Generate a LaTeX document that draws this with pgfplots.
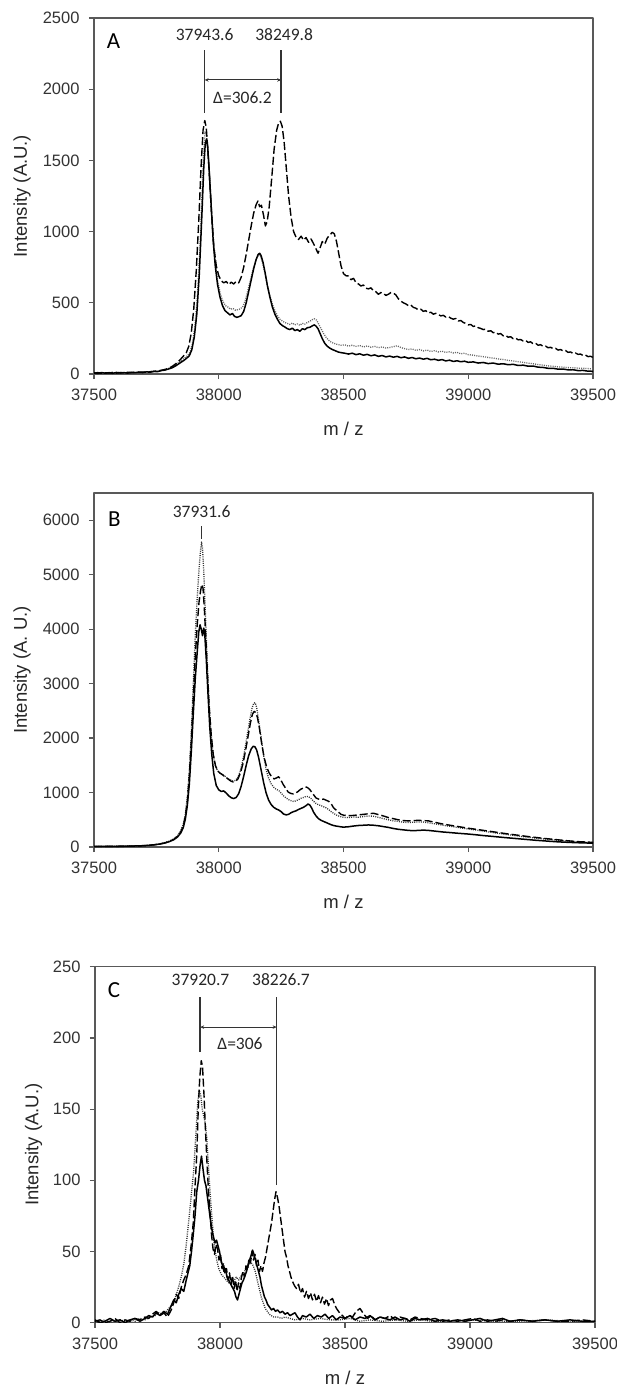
\documentclass[border=0pt]{standalone}
\usepackage{fontspec}
\setmainfont{Liberation Sans}
\newfontfamily\annot{Carlito}
\usepackage{pgfplots}
\pgfplotsset{compat=1.18}
\usetikzlibrary{arrows.meta}

\pgfplotsset{
  spec/.style={
    scale only axis,
    width=499pt,
    xmin=37500, xmax=39500,
    xtick={37500,38000,38500,39000,39500},
    scaled x ticks=false, scaled y ticks=false,
    axis line style={black!65, line width=1.3pt},
    tick style={black!65, line width=1.2pt},
    major tick length=5pt,
    tick align=outside,
    xtick pos=bottom, ytick pos=left,
    /pgf/number format/1000 sep={},
    /pgf/number format/fixed,
    /pgf/number format/assume math mode=true,
    tick label style={font=\fontsize{16.5}{18}\selectfont, text=black!80},
    xticklabel style={anchor=center, yshift=-16pt},
    yticklabel style={anchor=east, xshift=-6pt},
    every axis x label/.style={at={(axis description cs:0.5,-0.155)}, anchor=center,
      font=\fontsize{18.5}{20}\selectfont, text=black!85},
    every axis y label/.style={at={(axis description cs:-0.1443,0.5)}, rotate=90, anchor=center,
      font=\fontsize{18.5}{20}\selectfont, text=black!85},
    xlabel={m / z},
    no markers,
    line join=round,
    anchor=south west,
  },
  solidl/.style={black, line width=1.5pt},
  dashl/.style={black, line width=1.4pt, dash pattern=on 8pt off 3pt},
  dotl/.style={black!80, line width=1.3pt, dash pattern=on 1pt off 1.2pt},
}
\tikzset{
  mkline/.style={black!80, line width=1.6pt},
  dimline/.style={black!80, line width=0.9pt, {Stealth[length=4pt,width=3.5pt]}-{Stealth[length=4pt,width=3.5pt]}},
  lbl/.style={font=\annot\fontsize{17.5}{19}\selectfont, text=black!85},
  panel/.style={font=\annot\fontsize{23}{25}\selectfont, text=black},
}

\begin{document}
\begin{tikzpicture}
\useasboundingbox (0,0) rectangle (617pt,-1391pt);

% ---------------- A ----------------
\begin{axis}[spec, at={(94pt,-374pt)}, height=356pt,
  ymin=0, ymax=2500, ytick={0,500,1000,1500,2000,2500},
  ylabel={Intensity (A.U.)}]
\addplot[dotl, black!60] coordinates {
(37500,5)(37520,9)(37540,6)(37560,10)(37580,7)(37600,11)(37620,8)(37640,12)(37660,10)(37680,14)(37700,12)(37720,16)(37740,20)(37760,22)(37780,30)(37800,40)(37815,52)(37830,68)(37845,88)(37860,108)(37872,125)(37884,150)(37894,210)(37904,330)(37914,540)(37924,860)(37932,1220)(37939,1550)(37945,1700)(37951,1680)(37957,1560)(37964,1360)(37972,1120)(37980,900)(37988,750)(37997,640)(38007,560)(38017,510)(38027,480)(38037,470)(38047,455)(38057,460)(38067,448)(38077,452)(38087,458)(38097,475)(38107,520)(38117,590)(38127,660)(38137,730)(38147,790)(38155,825)(38162,838)(38169,820)(38177,770)(38186,700)(38195,620)(38205,550)(38215,490)(38225,445)(38235,410)(38245,385)(38255,372)(38265,362)(38275,355)(38285,348)(38295,358)(38305,345)(38315,352)(38325,342)(38335,356)(38345,350)(38355,362)(38365,370)(38375,382)(38383,388)(38392,378)(38400,352)(38410,318)(38420,285)(38430,258)(38440,238)(38450,225)(38462,215)(38475,208)(38490,202)(38505,205)(38520,196)(38535,202)(38550,194)(38565,200)(38580,190)(38595,197)(38610,188)(38625,194)(38640,185)(38655,190)(38670,182)(38685,186)(38700,192)(38715,198)(38730,186)(38745,178)(38760,172)(38775,176)(38790,166)(38805,172)(38820,162)(38835,168)(38850,158)(38865,164)(38880,155)(38895,160)(38910,152)(38925,156)(38940,148)(38955,152)(38970,142)(38985,146)(39000,136)(39020,132)(39040,126)(39060,122)(39080,116)(39100,112)(39120,106)(39140,102)(39160,96)(39180,92)(39200,86)(39220,82)(39240,76)(39260,72)(39280,66)(39300,62)(39320,57)(39340,54)(39360,50)(39380,48)(39400,45)(39420,44)(39440,41)(39460,40)(39480,38)(39500,36)
};
\addplot[solidl] coordinates {
(37500,8)(37515,4)(37530,10)(37545,6)(37560,9)(37575,5)(37590,11)(37605,7)(37620,10)(37635,6)(37650,12)(37665,9)(37680,13)(37695,10)(37710,15)(37725,13)(37740,18)(37755,17)(37770,24)(37785,28)(37800,36)(37815,45)(37830,60)(37845,78)(37860,95)(37872,112)(37882,128)(37892,170)(37902,260)(37912,420)(37922,700)(37932,1100)(37940,1450)(37946,1620)(37951,1650)(37956,1590)(37962,1420)(37970,1170)(37978,930)(37986,760)(37995,630)(38005,540)(38015,480)(38025,445)(38035,430)(38045,415)(38055,425)(38063,405)(38072,398)(38080,402)(38090,410)(38100,440)(38110,500)(38120,580)(38130,660)(38140,740)(38150,805)(38158,840)(38164,848)(38170,830)(38178,780)(38186,710)(38195,620)(38205,540)(38215,470)(38225,420)(38235,385)(38245,355)(38255,340)(38265,330)(38275,318)(38285,312)(38295,322)(38305,305)(38315,312)(38325,300)(38335,318)(38345,312)(38355,325)(38365,328)(38375,338)(38383,345)(38390,336)(38398,318)(38406,285)(38415,248)(38425,215)(38435,195)(38445,182)(38455,172)(38465,165)(38478,155)(38490,150)(38505,146)(38520,140)(38535,146)(38550,136)(38565,142)(38580,132)(38595,138)(38610,128)(38625,134)(38640,124)(38655,130)(38670,120)(38685,126)(38700,118)(38715,124)(38730,114)(38745,120)(38760,110)(38775,116)(38790,107)(38805,112)(38820,104)(38835,110)(38850,100)(38865,104)(38880,96)(38895,101)(38910,92)(38925,97)(38940,88)(38955,93)(38970,86)(38985,90)(39000,82)(39020,85)(39040,77)(39060,81)(39080,73)(39100,77)(39120,69)(39140,72)(39160,65)(39180,68)(39200,60)(39220,62)(39240,55)(39260,56)(39280,48)(39300,46)(39320,40)(39340,40)(39360,34)(39380,35)(39400,29)(39420,30)(39440,24)(39460,25)(39480,20)(39500,19)
};
\addplot[dashl] coordinates {
(37500,6)(37515,10)(37530,5)(37545,9)(37560,7)(37575,11)(37590,6)(37605,10)(37620,8)(37635,12)(37650,9)(37665,13)(37680,11)(37695,14)(37710,12)(37725,16)(37740,18)(37755,22)(37770,26)(37785,32)(37800,40)(37815,55)(37830,75)(37845,100)(37858,125)(37870,150)(37880,195)(37890,290)(37900,460)(37910,730)(37920,1080)(37929,1450)(37937,1710)(37944,1780)(37950,1730)(37956,1580)(37963,1380)(37971,1130)(37980,900)(37990,760)(38000,690)(38010,655)(38020,640)(38030,650)(38040,628)(38050,645)(38060,632)(38070,650)(38080,640)(38090,680)(38100,750)(38110,840)(38120,940)(38130,1040)(38140,1130)(38150,1190)(38157,1215)(38164,1175)(38171,1185)(38179,1120)(38187,1040)(38194,1070)(38202,1170)(38212,1370)(38222,1580)(38232,1710)(38240,1765)(38247,1775)(38254,1740)(38262,1630)(38271,1440)(38280,1250)(38290,1100)(38300,1000)(38310,960)(38320,945)(38330,968)(38340,940)(38350,958)(38360,925)(38370,948)(38380,915)(38390,878)(38398,848)(38406,885)(38415,930)(38425,912)(38435,955)(38445,975)(38455,995)(38463,985)(38472,930)(38481,845)(38490,760)(38500,705)(38510,690)(38520,688)(38530,662)(38540,672)(38550,642)(38560,632)(38570,618)(38580,625)(38590,602)(38600,598)(38610,605)(38620,585)(38630,578)(38640,560)(38650,572)(38660,566)(38670,552)(38680,560)(38690,572)(38700,568)(38710,555)(38720,528)(38730,512)(38740,500)(38750,492)(38760,480)(38770,485)(38780,468)(38790,462)(38800,450)(38810,455)(38820,440)(38830,445)(38840,428)(38850,434)(38860,420)(38870,426)(38880,418)(38890,408)(38900,412)(38910,400)(38920,404)(38930,392)(38940,385)(38950,390)(38960,372)(38970,376)(38980,362)(38990,355)(39000,345)(39010,348)(39020,334)(39030,338)(39040,325)(39050,320)(39060,312)(39070,315)(39080,300)(39090,304)(39100,290)(39110,294)(39120,280)(39130,284)(39140,268)(39150,272)(39160,258)(39170,262)(39180,248)(39190,252)(39200,240)(39210,242)(39220,232)(39230,236)(39240,222)(39250,226)(39260,212)(39270,216)(39280,202)(39290,206)(39300,194)(39310,196)(39320,184)(39330,188)(39340,178)(39350,180)(39360,168)(39370,172)(39380,162)(39390,165)(39400,152)(39410,155)(39420,144)(39430,147)(39440,138)(39450,140)(39460,130)(39470,133)(39480,122)(39490,125)(39500,116)
};
\draw[mkline] (axis cs:37943.6,1833) -- (axis cs:37943.6,2275);
\draw[mkline] (axis cs:38249.8,1833) -- (axis cs:38249.8,2275);
\draw[dimline] (axis cs:37943.6,2065) -- (axis cs:38249.8,2065);
\node[lbl] at (axis cs:37943.6,2381) {37943.6};
\node[lbl] at (axis cs:38262,2381) {38249.8};
\node[lbl] at (axis cs:38095,1938) {Δ=306.2};
\node[panel] at (axis description cs:0.039,0.934) {A};
\end{axis}

% ---------------- B ----------------
\begin{axis}[spec, at={(94pt,-847pt)}, height=354pt,
  ymin=0, ymax=6500, ytick={0,1000,2000,3000,4000,5000,6000},
  ylabel={Intensity (A. U.)}]
\addplot[dotl] coordinates {
(37500,10)(37520,12)(37540,11)(37560,13)(37580,12)(37600,15)(37620,14)(37640,17)(37660,18)(37680,22)(37700,26)(37720,32)(37740,42)(37760,55)(37780,75)(37800,105)(37820,150)(37835,210)(37848,300)(37858,420)(37866,600)(37874,900)(37882,1400)(37890,2100)(37898,3000)(37906,3900)(37914,4600)(37921,5100)(37927,5450)(37931,5600)(37935,5480)(37940,5050)(37946,4350)(37953,3500)(37960,2750)(37968,2150)(37976,1750)(37985,1520)(37995,1400)(38005,1360)(38015,1330)(38025,1300)(38035,1260)(38045,1235)(38055,1215)(38065,1220)(38075,1265)(38085,1380)(38095,1560)(38105,1800)(38115,2080)(38125,2350)(38133,2540)(38140,2640)(38146,2650)(38152,2560)(38160,2320)(38170,2000)(38180,1680)(38190,1420)(38200,1260)(38210,1160)(38220,1100)(38230,1060)(38240,1040)(38250,990)(38260,940)(38270,900)(38280,870)(38290,850)(38300,835)(38310,850)(38320,870)(38330,895)(38340,910)(38350,930)(38360,925)(38370,890)(38380,840)(38390,800)(38400,775)(38410,760)(38420,740)(38430,720)(38440,690)(38450,650)(38460,620)(38470,590)(38480,570)(38490,555)(38500,545)(38520,540)(38540,550)(38560,548)(38580,560)(38600,570)(38620,565)(38640,545)(38660,520)(38680,500)(38700,480)(38720,470)(38740,455)(38760,450)(38780,455)(38800,460)(38820,458)(38840,445)(38860,430)(38880,415)(38900,398)(38920,385)(38940,372)(38960,358)(38980,344)(39000,330)(39030,312)(39060,292)(39090,272)(39120,252)(39150,232)(39180,214)(39210,196)(39240,180)(39270,164)(39300,150)(39330,137)(39360,124)(39390,112)(39420,102)(39450,93)(39480,86)(39500,80)
};
\addplot[solidl] coordinates {
(37500,10)(37520,11)(37540,11)(37560,12)(37580,13)(37600,14)(37620,15)(37640,16)(37660,18)(37680,21)(37700,25)(37720,31)(37740,40)(37760,52)(37780,70)(37800,95)(37820,135)(37835,185)(37848,260)(37858,360)(37866,510)(37874,760)(37882,1150)(37890,1750)(37898,2450)(37906,3100)(37914,3600)(37920,3950)(37925,4080)(37930,4000)(37935,3880)(37940,4020)(37944,3900)(37950,3450)(37957,2800)(37964,2200)(37972,1700)(37980,1350)(37990,1130)(38000,1050)(38010,1020)(38020,1030)(38030,990)(38040,940)(38050,905)(38060,890)(38070,910)(38080,980)(38090,1120)(38100,1300)(38110,1500)(38120,1680)(38130,1800)(38138,1850)(38145,1840)(38152,1780)(38160,1640)(38170,1410)(38180,1180)(38190,990)(38200,860)(38210,780)(38220,730)(38230,700)(38240,680)(38250,650)(38260,605)(38270,590)(38280,600)(38290,630)(38300,650)(38310,665)(38320,690)(38330,710)(38340,730)(38350,760)(38358,790)(38365,770)(38372,720)(38380,640)(38390,570)(38400,520)(38410,490)(38420,470)(38430,450)(38440,430)(38450,410)(38460,395)(38470,385)(38480,378)(38490,370)(38500,365)(38520,372)(38540,385)(38560,395)(38580,400)(38600,405)(38620,400)(38640,390)(38660,375)(38680,360)(38700,340)(38720,325)(38740,315)(38760,305)(38780,300)(38800,305)(38820,310)(38840,305)(38860,295)(38880,285)(38900,275)(38920,268)(38940,260)(38960,252)(38980,245)(39000,238)(39030,225)(39060,210)(39090,198)(39120,185)(39150,172)(39180,160)(39210,148)(39240,136)(39270,124)(39300,114)(39330,104)(39360,95)(39390,88)(39420,82)(39450,77)(39480,73)(39500,70)
};
\addplot[dashl] coordinates {
(37500,8)(37520,10)(37540,9)(37560,12)(37580,11)(37600,13)(37620,13)(37640,15)(37660,17)(37680,20)(37700,24)(37720,30)(37740,40)(37760,52)(37780,70)(37800,98)(37820,140)(37835,195)(37848,280)(37858,390)(37866,560)(37874,840)(37882,1300)(37890,1950)(37898,2750)(37906,3500)(37914,4100)(37921,4500)(37927,4700)(37932,4820)(37937,4750)(37942,4400)(37948,3850)(37955,3150)(37962,2550)(37970,2050)(37978,1700)(37987,1490)(37997,1390)(38007,1350)(38017,1320)(38027,1280)(38037,1250)(38047,1215)(38057,1195)(38067,1205)(38077,1250)(38087,1360)(38097,1530)(38107,1760)(38117,2020)(38127,2280)(38135,2440)(38142,2490)(38148,2470)(38155,2380)(38163,2180)(38172,1900)(38182,1640)(38192,1470)(38202,1360)(38212,1290)(38222,1250)(38232,1270)(38240,1290)(38248,1240)(38258,1150)(38268,1080)(38278,1010)(38288,985)(38298,975)(38308,990)(38318,1020)(38328,1060)(38338,1080)(38348,1105)(38356,1090)(38364,1060)(38372,1010)(38380,960)(38390,900)(38400,880)(38410,870)(38420,880)(38430,860)(38440,840)(38450,800)(38460,720)(38470,680)(38480,640)(38490,600)(38500,585)(38520,575)(38540,580)(38560,590)(38580,600)(38600,610)(38620,620)(38640,595)(38660,570)(38680,540)(38700,520)(38720,500)(38740,485)(38760,480)(38780,485)(38800,490)(38820,485)(38840,480)(38860,460)(38880,440)(38900,420)(38920,405)(38940,390)(38960,375)(38980,360)(39000,345)(39030,326)(39060,306)(39090,286)(39120,266)(39150,246)(39180,228)(39210,210)(39240,192)(39270,176)(39300,160)(39330,146)(39360,132)(39390,118)(39420,106)(39450,96)(39480,90)(39500,85)
};
\draw[mkline] (axis cs:37931.6,5655) -- (axis cs:37931.6,5894);
\node[lbl] at (axis cs:37931.6,6151) {37931.6};
\node[panel] at (axis description cs:0.041,0.927) {B};
\end{axis}

% ---------------- C ----------------
\begin{axis}[spec, at={(95pt,-1322.7pt)}, height=356pt, width=500pt,
  ymin=0, ymax=250, ytick={0,50,100,150,200,250},
  ylabel={Intensity (A.U.)},
  every axis y label/.style={at={(axis description cs:-0.123,0.5)}, rotate=90, anchor=center,
    font=\fontsize{18.5}{20}\selectfont, text=black!85}]
\addplot[dotl] coordinates {
(37500,0)(37520,1)(37540,2)(37560,0)(37580,1)(37600,2)(37620,1)(37640,2)(37660,1)(37680,3)(37700,2)(37720,4)(37740,5)(37755,7)(37770,6)(37785,8)(37800,11)(37812,14)(37824,19)(37836,26)(37846,33)(37856,42)(37865,55)(37873,68)(37881,82)(37888,95)(37894,105)(37900,122)(37906,140)(37911,155)(37917,163)(37923,160)(37929,150)(37935,145)(37941,140)(37947,130)(37953,112)(37959,95)(37965,80)(37972,64)(37979,52)(37987,44)(37995,38)(38005,34)(38015,32)(38025,30)(38035,28)(38045,31)(38055,29)(38065,32)(38075,30)(38085,33)(38095,35)(38105,38)(38115,41)(38125,42)(38133,40)(38141,36)(38149,30)(38157,24)(38165,18)(38173,14)(38181,10)(38189,8)(38197,6)(38205,5)(38215,4)(38230,4)(38245,3)(38260,4)(38280,3)(38300,2)(38330,3)(38360,2)(38400,3)(38440,2)(38480,2)(38520,3)(38560,1)(38600,2)(38650,1)(38700,2)(38750,1)(38800,2)(38850,1)(38900,1)(39000,2)(39100,1)(39200,1)(39300,2)(39400,1)(39500,1)
};
\addplot[solidl] coordinates {
(37500,2)(37520,0)(37540,1)(37560,3)(37580,1)(37600,2)(37620,0)(37640,2)(37660,3)(37680,1)(37700,3)(37715,5)(37730,4)(37745,7)(37760,5)(37775,8)(37790,6)(37805,12)(37815,16)(37825,14)(37835,20)(37845,24)(37855,22)(37865,30)(37872,35)(37879,40)(37886,50)(37893,62)(37900,75)(37907,92)(37914,100)(37920,110)(37926,117)(37932,108)(37938,100)(37944,96)(37950,88)(37956,80)(37962,72)(37968,65)(37974,60)(37980,56)(37986,58)(37992,54)(37998,50)(38004,44)(38010,40)(38016,36)(38022,38)(38028,32)(38034,30)(38040,28)(38046,26)(38052,24)(38058,22)(38064,18)(38070,16)(38076,20)(38082,24)(38088,28)(38094,30)(38100,33)(38106,36)(38112,40)(38118,44)(38124,47)(38130,51)(38136,48)(38142,44)(38148,40)(38154,36)(38160,32)(38166,26)(38172,22)(38178,18)(38184,16)(38190,13)(38198,11)(38206,9)(38214,10)(38222,8)(38230,9)(38240,7)(38250,8)(38260,6)(38270,7)(38280,5)(38290,6)(38300,7)(38310,4)(38320,2)(38330,5)(38345,4)(38360,6)(38375,3)(38390,5)(38405,4)(38420,6)(38435,3)(38450,5)(38465,2)(38480,4)(38500,3)(38520,5)(38540,2)(38560,4)(38580,3)(38600,5)(38620,2)(38640,4)(38660,3)(38680,2)(38700,4)(38720,2)(38740,3)(38760,1)(38780,3)(38800,2)(38830,3)(38860,1)(38890,2)(38920,1)(38950,2)(38980,1)(39010,2)(39040,3)(39070,1)(39100,2)(39130,3)(39160,1)(39200,2)(39250,1)(39300,2)(39350,1)(39400,2)(39450,1)(39500,1)
};
\addplot[dashl] coordinates {
(37500,1)(37520,2)(37540,0)(37560,1)(37580,3)(37600,0)(37620,2)(37640,1)(37660,3)(37680,2)(37700,4)(37715,3)(37730,6)(37745,8)(37760,5)(37775,7)(37790,4)(37805,9)(37815,14)(37825,20)(37835,17)(37845,25)(37855,30)(37865,34)(37875,40)(37885,55)(37893,70)(37900,95)(37907,118)(37913,150)(37919,172)(37925,184)(37930,180)(37936,160)(37942,135)(37948,112)(37954,92)(37960,78)(37966,62)(37972,52)(37978,48)(37984,55)(37990,52)(37996,44)(38002,48)(38008,38)(38014,42)(38020,34)(38026,38)(38032,30)(38038,35)(38044,27)(38050,33)(38056,24)(38062,30)(38068,22)(38074,28)(38080,24)(38086,32)(38092,36)(38098,32)(38104,40)(38110,37)(38116,45)(38122,42)(38128,50)(38134,44)(38140,48)(38146,40)(38152,44)(38158,36)(38164,40)(38170,36)(38176,42)(38182,46)(38188,52)(38194,58)(38200,64)(38206,70)(38212,78)(38218,86)(38224,92)(38230,88)(38236,82)(38242,74)(38248,66)(38254,58)(38260,50)(38266,46)(38272,40)(38278,36)(38284,32)(38290,29)(38298,26)(38306,24)(38314,27)(38322,21)(38330,24)(38338,18)(38346,22)(38354,17)(38362,21)(38370,16)(38378,20)(38386,15)(38394,19)(38402,14)(38410,18)(38418,13)(38426,17)(38434,12)(38442,16)(38450,17)(38458,13)(38466,10)(38474,8)(38482,6)(38490,5)(38500,3)(38515,5)(38530,4)(38545,8)(38560,10)(38575,6)(38590,3)(38605,5)(38620,2)(38640,4)(38660,3)(38680,5)(38700,2)(38720,4)(38740,3)(38760,2)(38780,4)(38800,3)(38830,2)(38860,3)(38890,1)(38920,2)(38950,1)(38980,2)(39010,3)(39040,1)(39070,2)(39100,1)(39130,2)(39160,1)(39200,2)(39250,1)(39300,2)(39350,1)(39400,1)(39450,2)(39500,1)
};
\draw[mkline] (axis cs:37920.7,190) -- (axis cs:37920.7,228.7);
\draw[mkline] (axis cs:38226.7,96.7) -- (axis cs:38226.7,228.7);
\draw[dimline] (axis cs:37920.7,207.6) -- (axis cs:38226.7,207.6);
\node[lbl] at (axis cs:37922,240.7) {37920.7};
\node[lbl] at (axis cs:38244,240.7) {38226.7};
\node[lbl] at (axis cs:38080,195.7) {Δ=306};
\node[panel] at (axis description cs:0.038,0.935) {C};
\end{axis}
\end{tikzpicture}
\end{document}
